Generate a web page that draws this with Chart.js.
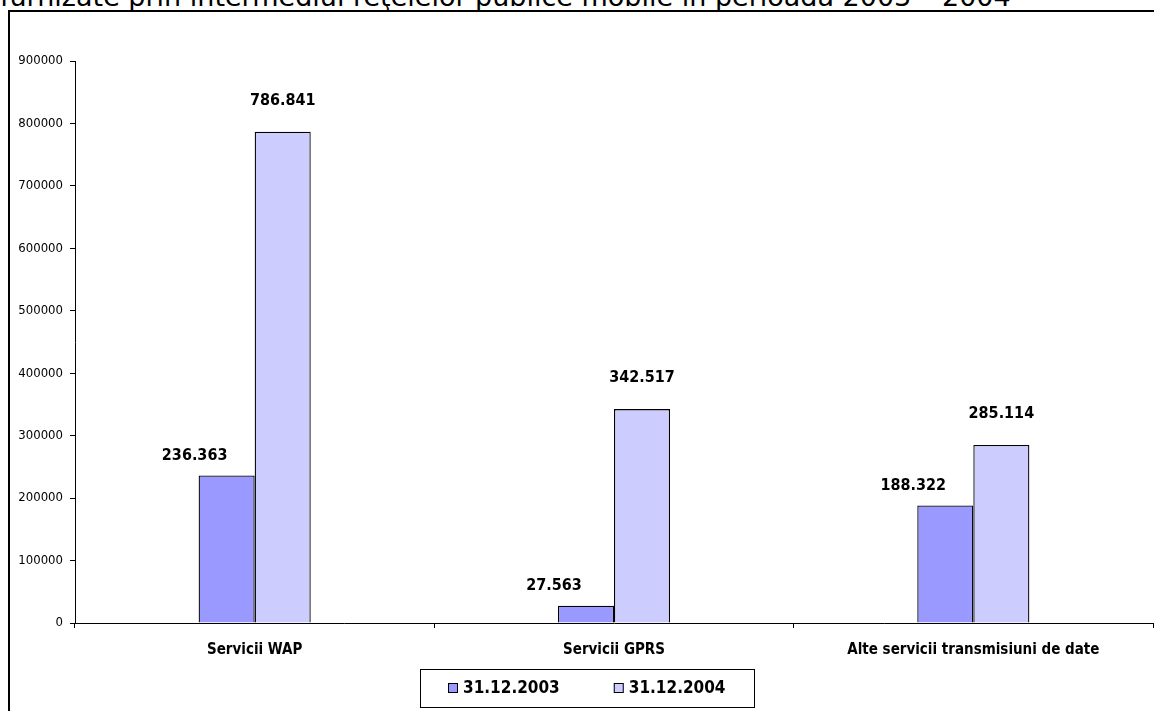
<!DOCTYPE html>
<html lang="ro">
<head>
    <meta charset="UTF-8">
    <title>Servicii de date - retele mobile</title>
    <script src="https://cdn.jsdelivr.net/npm/chart.js"></script>
    <style>
        body {
            margin: 0;
            background: #fff;
            overflow: hidden;
        }
        .caption {
            position: absolute;
            left: 0;
            top: -19px;
            font-family: "DejaVu Sans", Verdana, sans-serif;
            font-size: 27px;
            line-height: 32px;
            white-space: nowrap;
            color: #000;
        }
        .frame {
            position: absolute;
            left: 8px;
            top: 10px;
            width: 1200px;
            height: 720px;
            border-left: 2px solid #000;
            border-top: 2px solid #000;
            background: #fff;
        }
        #wrap {
            position: absolute;
            left: 0;
            top: 0;
            width: 1154px;
            height: 711px;
        }
    </style>
</head>
<body>
    <div class="caption">furnizate prin intermediul reţelelor publice mobile în perioada 2003 – 2004</div>
    <div class="frame"></div>
    <div id="wrap"><canvas id="chart"></canvas></div>

    <script>
const categories = ['Servicii WAP', 'Servicii GPRS', 'Alte servicii transmisiuni de date'];
const seriesNames = ['31.12.2003', '31.12.2004'];
const values2003 = [236363, 27563, 188322];
const values2004 = [786841, 342517, 285114];
const yTicks = [0, 100000, 200000, 300000, 400000, 500000, 600000, 700000, 800000, 900000];

const FONT = '"DejaVu Sans Condensed", "DejaVu Sans", sans-serif';

function fmt(v) {
    return String(v).replace(/\B(?=(\d{3})+(?!\d))/g, '.');
}

// value labels above the bars
const barLabels = {
    id: 'barLabels',
    afterDatasetsDraw(chart) {
        const ctx = chart.ctx;
        ctx.save();
        ctx.font = 'bold 16px ' + FONT;
        ctx.fillStyle = '#000';
        ctx.textAlign = 'center';
        ctx.textBaseline = 'middle';
        chart.data.datasets.forEach((ds, i) => {
            const meta = chart.getDatasetMeta(i);
            meta.data.forEach((bar, j) => {
                ctx.fillText(fmt(ds.data[j]), bar.x + ds.labelDx, bar.y - ds.labelDy);
            });
        });
        ctx.restore();
    }
};

// boxed legend under the axis
const boxLegend = {
    id: 'boxLegend',
    afterDraw(chart, args, opts) {
        const ctx = chart.ctx;
        ctx.save();
        ctx.font = 'bold 17px ' + FONT;
        const pad = 28, sq = 10, gap = 5, spacing = 54;
        const widths = chart.data.datasets.map(ds => ctx.measureText(ds.label).width);
        let w = pad * 2 + widths.reduce((a, b) => a + b, 0) + (sq + gap) * widths.length + spacing * (widths.length - 1);
        const h = 38;
        const left = Math.round(opts.centerX - w / 2);
        const top = opts.top;
        ctx.strokeStyle = '#000';
        ctx.lineWidth = 1;
        ctx.strokeRect(left + 0.5, top + 0.5, Math.round(w), h);
        let x = left + pad;
        const cy = top + h / 2;
        ctx.textBaseline = 'middle';
        ctx.textAlign = 'left';
        chart.data.datasets.forEach((ds, i) => {
            ctx.fillStyle = ds.backgroundColor;
            ctx.fillRect(x, cy - sq / 2, sq, sq);
            ctx.strokeRect(x + 0.5, cy - sq / 2 + 0.5, sq - 1, sq - 1);
            x += sq + gap;
            ctx.fillStyle = '#000';
            ctx.fillText(ds.label, x, cy + 1);
            x += widths[i] + spacing;
        });
        ctx.restore();
    }
};

new Chart(document.getElementById('chart'), {
    type: 'bar',
    data: {
        labels: categories,
        datasets: [
            {
                label: seriesNames[0],
                data: values2003,
                backgroundColor: '#9999FF',
                borderColor: '#000',
                borderWidth: 1.3,
                labelDx: -32,
                labelDy: 20
            },
            {
                label: seriesNames[1],
                data: values2004,
                backgroundColor: '#CCCCFF',
                borderColor: '#000',
                borderWidth: 1.3,
                labelDx: 0,
                labelDy: 31
            }
        ]
    },
    options: {
        responsive: true,
        maintainAspectRatio: false,
        animation: false,
        categoryPercentage: 0.312,
        barPercentage: 1,
        layout: { padding: { top: 61, right: 1, left: 0, bottom: 0 } },
        plugins: {
            legend: { display: false },
            tooltip: { enabled: false },
            boxLegend: { centerX: 587, top: 669 }
        },
        scales: {
            x: {
                grid: {
                    display: true,
                    drawOnChartArea: false,
                    offset: true,
                    tickLength: 5,
                    color: '#000'
                },
                border: { display: true, color: '#000', width: 1 },
                ticks: {
                    color: '#000',
                    font: { family: FONT, size: 15, weight: 'bold' },
                    padding: 13
                },
                afterFit(scale) { scale.height = 88; }
            },
            y: {
                min: 0,
                max: 900000,
                afterBuildTicks(scale) { scale.ticks = yTicks.map(v => ({ value: v })); },
                grid: {
                    display: true,
                    drawOnChartArea: false,
                    tickLength: 5,
                    color: '#000'
                },
                border: { display: true, color: '#000', width: 1 },
                ticks: {
                    color: '#000',
                    font: { family: FONT, size: 13 },
                    padding: 7,
                    callback: v => String(v)
                },
                afterFit(scale) { scale.width = 75; }
            }
        }
    },
    plugins: [barLabels, boxLegend]
});
</script>
</body>
</html>
